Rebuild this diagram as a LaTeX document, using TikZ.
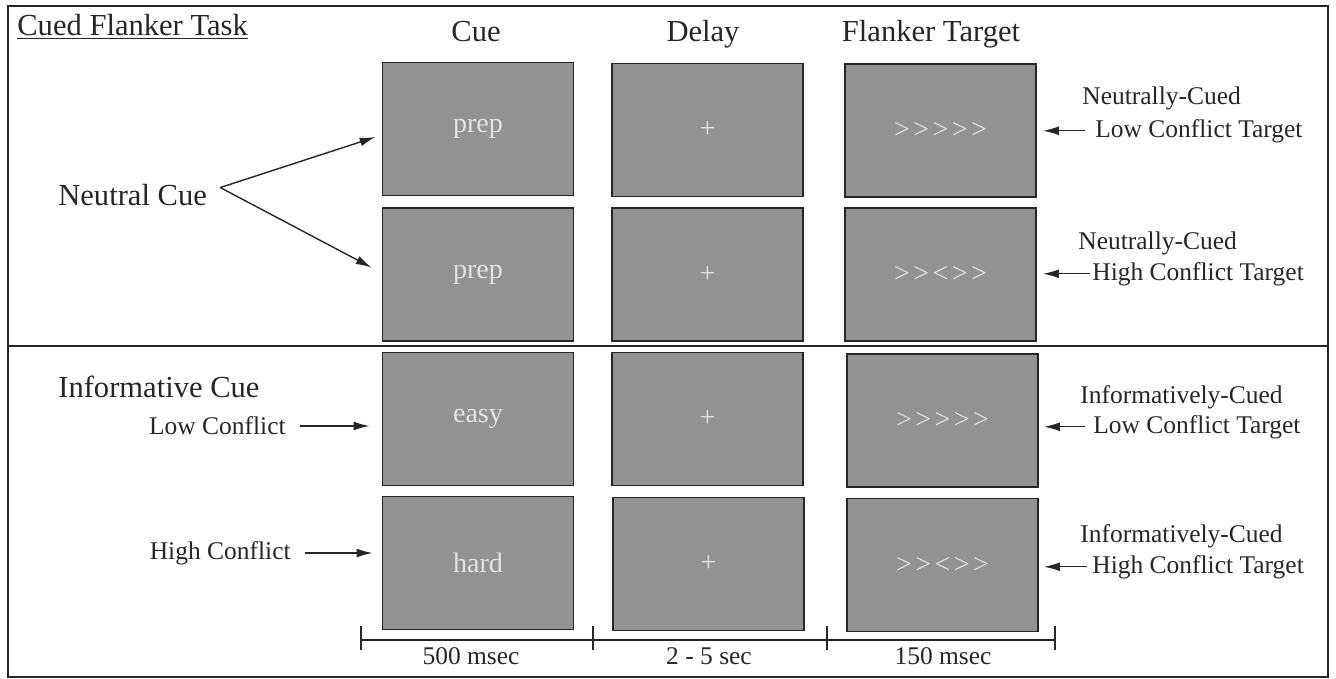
\documentclass[tikz,border=0pt]{standalone}
\usepackage{fontspec}
\setmainfont{Liberation Serif}
\newfontfamily\chevronfont{Liberation Serif}[Ligatures=TeXOff,LetterSpace=12]
\usetikzlibrary{arrows.meta}
\definecolor{screengray}{RGB}{146,146,146}
\definecolor{inkgray}{RGB}{38,38,38}
\definecolor{glyphgray}{RGB}{228,228,228}
\tikzset{
  screen/.style={draw=inkgray,line width=1.1pt,fill=screengray,minimum width=3.82cm,minimum height=2.66cm,inner sep=0pt,text=glyphgray,font=\fontsize{16}{18}\selectfont},
  flanker/.style={screen,font=\chevronfont\fontsize{16}{18}\selectfont},
  bigtxt/.style={inner sep=0pt,text=inkgray,font=\fontsize{17.4}{20}\selectfont},
  smalltxt/.style={inner sep=0pt,text=inkgray,font=\fontsize{14.5}{17}\selectfont},
  pointer/.style={draw=inkgray,line width=0.8pt,-{Latex[length=9pt,width=5pt]}},
  rule/.style={draw=inkgray,line width=1.1pt},
}
\begin{document}
\begin{tikzpicture}[x=0.02cm,y=-0.02cm]
\useasboundingbox (0,0) rectangle (1336,679);
\draw[rule] (8,6) rectangle (1328,677);
\draw[rule] (8,346) -- (1328,346);
% headings
\node (title) at (17,36) [bigtxt,anchor=base west] {\underline{Cued Flanker Task}};
\node (hcue) at (476,42) [bigtxt,anchor=base] {Cue};
\node (hdelay) at (703,42) [bigtxt,anchor=base] {Delay};
\node (hflank) at (931,42) [bigtxt,anchor=base] {Flanker Target};
% screens
\node (cue1) at (478,129) [screen] {prep};
\node (cue2) at (478,274.5) [screen] {prep};
\node (cue3) at (478,419) [screen] {easy};
\node (cue4) at (478,563) [screen] {hard};
\node (dly1) at (707.5,130) [screen] {+};
\node (dly2) at (707.5,274.5) [screen] {+};
\node (dly3) at (707.5,419) [screen] {+};
\node (dly4) at (708.5,564) [screen] {+};
\node (flk1) at (940.5,130.5) [flanker] {>>>>>};
\node (flk2) at (940.5,274.5) [flanker] {>><>>};
\node (flk3) at (942.5,420.5) [flanker] {>>>>>};
\node (flk4) at (942.5,565) [flanker] {>><>>};
% cue side
\node (ncue) at (58,205) [bigtxt,anchor=base west] {Neutral Cue};
\draw[pointer] ([shift={(13,-7)}]ncue.east) -- ([shift={(-6,8)}]cue1.west);
\draw[pointer] ([shift={(13,-7)}]ncue.east) -- ([shift={(-10,-7)}]cue2.west);
\node (icue) at (58,397) [bigtxt,anchor=base west] {Informative Cue};
\node (lowc) at (286,426) [smalltxt,anchor=east] {Low Conflict};
\node (highc) at (291,553) [smalltxt,anchor=east] {High Conflict};
\draw[pointer] ([xshift=0.28cm]lowc.east) -- ([xshift=-0.24cm]lowc.east -| cue3.west);
\draw[pointer] ([xshift=0.28cm]highc.east) -- ([xshift=-0.18cm]highc.east -| cue4.west);
% target side
\node (t1a) at (1082,105) [smalltxt,anchor=base west] {Neutrally-Cued};
\node (t1b) at (1095,137) [smalltxt,anchor=base west] {Low Conflict Target};
\node (t2a) at (1078,249) [smalltxt,anchor=base west] {Neutrally-Cued};
\node (t2b) at (1092,280) [smalltxt,anchor=base west] {High Conflict Target};
\node (t3a) at (1080,403) [smalltxt,anchor=base west] {Informatively-Cued};
\node (t3b) at (1093,433) [smalltxt,anchor=base west] {Low Conflict Target};
\node (t4a) at (1080,542) [smalltxt,anchor=base west] {Informatively-Cued};
\node (t4b) at (1092,573) [smalltxt,anchor=base west] {High Conflict Target};
\draw[pointer] ([xshift=-0.2cm]t1b.west) -- ([xshift=0.12cm]t1b.west -| flk1.east);
\draw[pointer] ([xshift=-0.04cm]t2b.west) -- ([xshift=0.12cm]t2b.west -| flk2.east);
\draw[pointer] ([xshift=-0.16cm]t3b.west) -- ([xshift=0.1cm]t3b.west -| flk3.east);
\draw[pointer] ([xshift=-0.1cm]t4b.west) -- ([xshift=0.1cm]t4b.west -| flk4.east);
% time line
\coordinate (t0) at (361,640);
\coordinate (tA) at (593,640);
\coordinate (tB) at (827,640);
\coordinate (tC) at (1055,640);
\draw[inkgray,line width=0.9pt] (t0) -- (tC);
\foreach \t in {t0,tA,tB,tC}
  \draw[inkgray,line width=1.1pt] ([yshift=0.28cm]\t) -- ([yshift=-0.2cm]\t);
\node (d1) at (471,664) [smalltxt,anchor=base] {500 msec};
\node (d2) at (709,664) [smalltxt,anchor=base] {2 - 5 sec};
\node (d3) at (943,664) [smalltxt,anchor=base] {150 msec};
\end{tikzpicture}
\end{document}
